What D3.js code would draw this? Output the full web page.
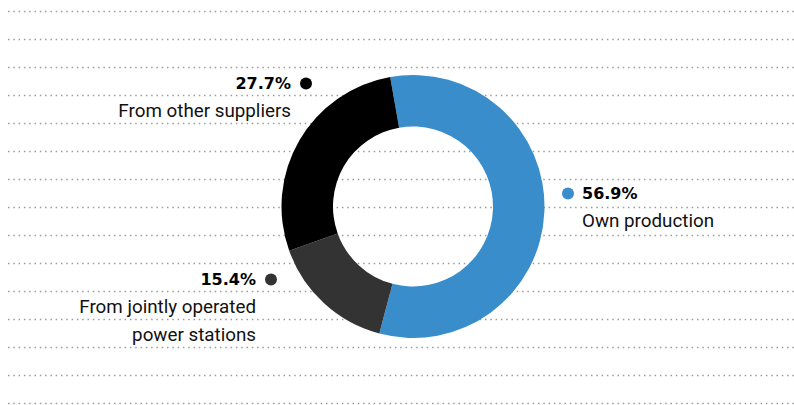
<!DOCTYPE html>
<html>
<head>
<meta charset="utf-8">
<script src="https://cdn.jsdelivr.net/npm/d3@7/dist/d3.min.js"></script>
<style>
  html, body { margin: 0; padding: 0; background: #fff; }
  svg { display: block; }
  text { font-family: Roboto, "Helvetica Neue", Arial, sans-serif; }
  text.value { font-family: "DejaVu Sans", Roboto, Arial, sans-serif; }
</style>
</head>
<body>
<svg id="chart" width="794" height="405"></svg>
<script>
// Electricity sources, share in percent
const categories = ["Own production", "From jointly operated power stations", "From other suppliers"];
const values = [56.9, 15.4, 27.7];
const valueLabels = ["56.9%", "15.4%", "27.7%"];
const nameLines = [["Own production"], ["From jointly operated", "power stations"], ["From other suppliers"]];
const colors = ["#3a8dcb", "#333333", "#000000"];

const W = 794, H = 405;
const svg = d3.select("#chart");

// Background dotted rules
const ruleY = d3.range(15).map(i => 11 + i * 28);
svg.append("g")
  .selectAll("line")
  .data(ruleY)
  .join("line")
  .attr("x1", 8).attr("x2", W)
  .attr("y1", d => d + 0.5).attr("y2", d => d + 0.5)
  .attr("stroke", "#9a9a9a")
  .attr("stroke-width", 1.6)
  .attr("stroke-dasharray", "1.5 3.8");

// Donut
const cx = 413, cy = 206.5, outerR = 131.5, innerR = 80;
const startA = -10 * Math.PI / 180;
const pie = d3.pie().sort(null).value(d => d)
  .startAngle(startA).endAngle(startA + 2 * Math.PI);
const arc = d3.arc().innerRadius(innerR).outerRadius(outerR);
const arcs = pie(values);

const donut = svg.append("g").attr("transform", `translate(${cx},${cy})`);
donut.selectAll("path")
  .data(arcs)
  .join("path")
  .attr("d", arc)
  .attr("fill", (d, i) => colors[i]);

// Labels: value line with marker dot, then category name lines
const labelLayout = [
  { x: 582, y: 199, side: "right" },
  { x: 256, y: 285, side: "left" },
  { x: 291, y: 89, side: "left" }
];
const lineGap = 28;

const labels = svg.append("g");
arcs.forEach((a, i) => {
  const L = labelLayout[i];
  const g = labels.append("g");
  const anchor = L.side === "left" ? "end" : "start";
  const dotX = L.side === "left" ? L.x + 15 : L.x - 14;
  g.append("circle")
    .attr("cx", dotX).attr("cy", L.y - 5.5)
    .attr("r", 6)
    .attr("fill", colors[i]);
  g.append("text")
    .attr("class", "value")
    .attr("x", L.x).attr("y", L.y)
    .attr("text-anchor", anchor)
    .attr("font-size", 16)
    .attr("font-weight", 700)
    .attr("fill", "#000")
    .text(valueLabels[i]);
  nameLines[i].forEach((t, j) => {
    g.append("text")
      .attr("x", L.x).attr("y", L.y + lineGap * (j + 1))
      .attr("text-anchor", anchor)
      .attr("font-size", 18.8)
      .attr("fill", "#111")
      .text(t);
  });
});
</script>
</body>
</html>
